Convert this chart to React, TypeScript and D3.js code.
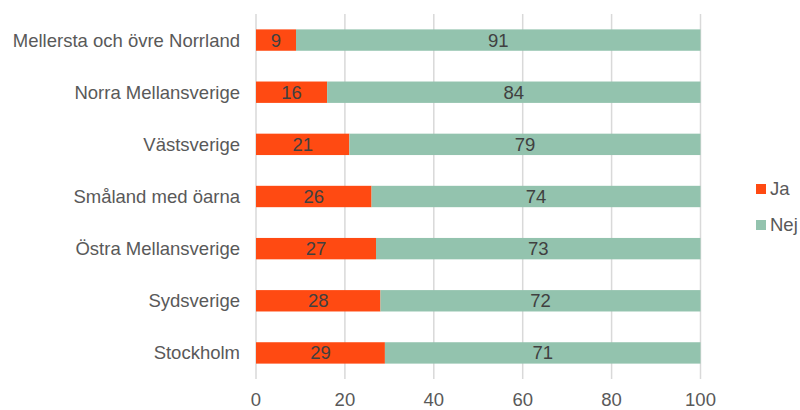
import React from "react";
import * as d3 from "d3";

const categories = [
  "Mellersta och övre Norrland",
  "Norra Mellansverige",
  "Västsverige",
  "Småland med öarna",
  "Östra Mellansverige",
  "Sydsverige",
  "Stockholm",
];
const jaValues = [9, 16, 21, 26, 27, 28, 29];
const nejValues = [91, 84, 79, 74, 73, 72, 71];
const xTicks = [0, 20, 40, 60, 80, 100];
const seriesNames = ["Ja", "Nej"];
const seriesColors = ["#FF4A12", "#93C3AE"];

const W = 800;
const H = 410;
const FONT = "'Liberation Sans', Arial, sans-serif";
const FS = 18.5;

export default function App() {
  const x = d3.scaleLinear().domain([0, 100]).range([256, 700.5]);
  const y = d3
    .scaleBand<string>()
    .domain(categories)
    .range([14, 379])
    .paddingInner(0.59)
    .paddingOuter(0.295);

  const rows = categories.map((c, i) => {
    const vals = [jaValues[i], nejValues[i]];
    let acc = 0;
    return {
      c,
      segs: vals.map((v, k) => {
        const s = { x0: acc, x1: acc + v, v, k };
        acc += v;
        return s;
      }),
    };
  });

  return (
    <svg
      width={W}
      height={H}
      style={{ position: "absolute", left: 0, top: 0, background: "#fff" }}
      fontFamily={FONT}
    >
      {xTicks.map((t) => (
        <g key={t}>
          <line
            x1={x(t)}
            x2={x(t)}
            y1={14}
            y2={379}
            stroke="#D9D9D9"
            strokeWidth={1.5}
          />
          <text
            x={x(t)}
            y={405.5}
            textAnchor="middle"
            fontSize={FS}
            fill="#595959"
          >
            {t}
          </text>
        </g>
      ))}
      {rows.map((r) => (
        <g key={r.c}>
          <text
            x={240}
            y={y(r.c)! + y.bandwidth() / 2}
            dy="0.35em"
            textAnchor="end"
            fontSize={FS}
            fill="#595959"
          >
            {r.c}
          </text>
          {r.segs.map((s) => (
            <g key={s.k}>
              <rect
                x={x(s.x0)}
                y={y(r.c)}
                width={x(s.x1) - x(s.x0)}
                height={y.bandwidth()}
                fill={seriesColors[s.k]}
              />
              <text
                x={(x(s.x0) + x(s.x1)) / 2}
                y={y(r.c)! + y.bandwidth() / 2}
                dy="0.35em"
                textAnchor="middle"
                fontSize={FS}
                fill="#404040"
              >
                {s.v}
              </text>
            </g>
          ))}
        </g>
      ))}
      {seriesNames.map((n, i) => (
        <g key={n} transform={`translate(756, ${184 + i * 36})`}>
          <rect width={10} height={10} fill={seriesColors[i]} />
          <text x={14} y={5} dy="0.35em" fontSize={FS} fill="#595959">
            {n}
          </text>
        </g>
      ))}
    </svg>
  );
}
